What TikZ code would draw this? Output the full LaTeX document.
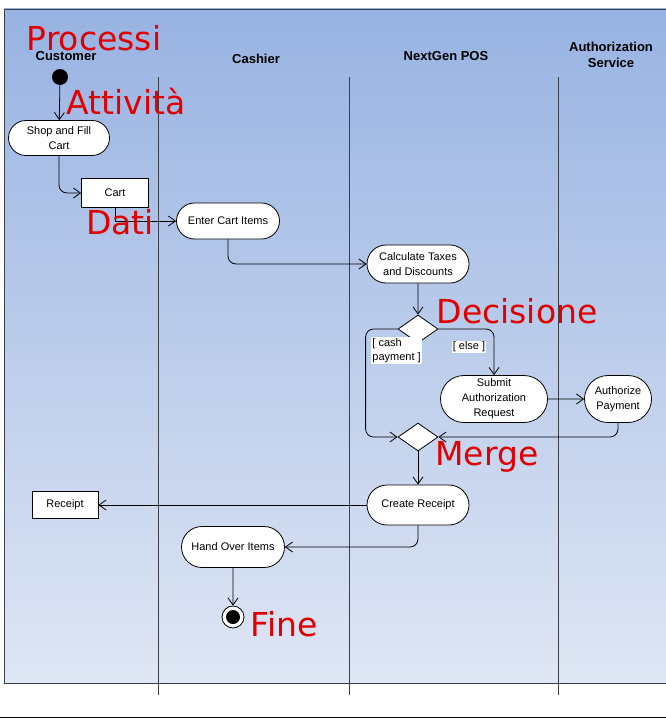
\documentclass[tikz,border=0pt]{standalone}
\usepackage{fontspec}
\setmainfont{Liberation Sans}
\newfontfamily\notefont{DejaVu Sans}
\usetikzlibrary{arrows.meta,shapes.geometric,shapes.misc}

\definecolor{swimtop}{RGB}{152,179,226}
\definecolor{swimbot}{RGB}{223,230,244}
\definecolor{laneclr}{RGB}{60,62,72}
\definecolor{noteclr}{RGB}{225,0,0}

\tikzset{
	action/.style={draw, fill=white, rounded rectangle, align=center, inner sep=2pt,
		font=\fontsize{11}{15}\selectfont},
	objbox/.style={draw, fill=white, rectangle, font=\fontsize{11}{13}\selectfont},
	branch/.style={draw, fill=white, diamond, minimum width=40pt, minimum height=28pt, inner sep=0pt},
	flow/.style={line width=0.8pt, -{Straight Barb[length=7pt,width=10pt]}},
	elbow/.style={rounded corners=8pt},
	guard/.style={fill=white, inner sep=1pt, align=left, font=\fontsize{11}{14}\selectfont},
	lanehead/.style={font=\fontsize{13}{16}\selectfont\bfseries, align=center},
	note/.style={text=noteclr, font=\notefont\fontsize{33}{36}\selectfont, inner sep=0pt}
}

\begin{document}
\begin{tikzpicture}[x=1pt, y=-1pt, line width=0.8pt]
	\useasboundingbox (0,0) rectangle (666,725);
	% swimlane frame
	\shade[top color=swimtop, bottom color=swimbot] (4,9) rectangle (666,683);
	\draw[laneclr] (666,9) -- (4,9) -- (4,683) -- (666,683);
	\foreach \x in {158, 349, 558}
	\draw[laneclr] (\x,77) -- (\x,695);
	\draw (0,717) -- (666,717);

	% lane headers
	\node[lanehead] (hcust) at (66,56) {Customer};
	\node[lanehead] (hcash) at (256,59) {Cashier};
	\node[lanehead] (hpos) at (446,56) {NextGen POS};
	\node[lanehead] (hauth) at (611,55) {Authorization\\Service};

	% activities and objects
	\node[circle, fill=black, minimum size=16pt, inner sep=0pt] (start) at (60,77) {};
	\node[action, minimum width=105pt, minimum height=35pt] (shop) at (59,138) {Shop and Fill\\Cart};
	\node[objbox, minimum width=67pt, minimum height=29pt] (cart) at (115,193) {Cart};
	\node[action, minimum width=107pt, minimum height=36pt] (enter) at (228,221) {Enter Cart Items};
	\node[action, minimum width=106pt, minimum height=38pt] (calc) at (418,264) {Calculate Taxes\\and Discounts};
	\node[branch] (dec) at (418,329) {};
	\node[action, minimum width=111pt, minimum height=47pt] (submit) at (494,399) {Submit\\Authorization\\Request};
	\node[action, minimum width=71pt, minimum height=47pt] (auth) at (618,399) {Authorize\\Payment};
	\node[branch] (merge) at (418,437) {};
	\node[action, minimum width=106pt, minimum height=40pt] (create) at (418,505) {Create Receipt};
	\node[objbox, minimum width=66pt, minimum height=27pt] (receipt) at (65,505) {Receipt};
	\node[action, minimum width=107pt, minimum height=41pt] (hand) at (233,547) {Hand Over Items};
	\node[circle, draw, fill=white, minimum size=22pt, inner sep=0pt] (fin) at (233,617) {};
	\fill (fin) circle (7pt);

	% flows
	\draw[flow] (start) -- (shop);
	\draw[flow, elbow] (shop.south) |- (cart.west);
	\draw[flow] (cart.south) |- (enter.west);
	\draw[flow, elbow] (enter.south) |- (calc.west);
	\draw[flow] (calc) -- (dec);
	\draw[flow, elbow] (dec.west) -- ++(-32,0) |- (merge.west);
	\node[guard, anchor=north west] (gcash) at (371,337) {[ cash\\payment ]};
	\draw[flow, elbow] (dec.east) -| (submit.north);
	\node[guard] (gelse) at (469,347) {[ else ]};
	\draw[flow] (submit) -- (auth);
	\draw[flow, elbow] (auth.south) |- (merge.east);
	\draw[flow] (merge) -- (create);
	\draw[flow] (create) -- (receipt);
	\draw[flow, elbow] (create.south) |- (hand.east);
	\draw[flow] (hand) -- (fin);

	% red notes
	\node[note] (nproc) at (94,38) {Processi};
	\node[note] (natt) at (126,102) {Attività};
	\node[note] (ndati) at (120,222) {Dati};
	\node[note] (ndec) at (517,311) {Decisione};
	\node[note] (nmerge) at (487,457) {Merge};
	\node[note] (nfine) at (284,624) {Fine};
\end{tikzpicture}
\end{document}
